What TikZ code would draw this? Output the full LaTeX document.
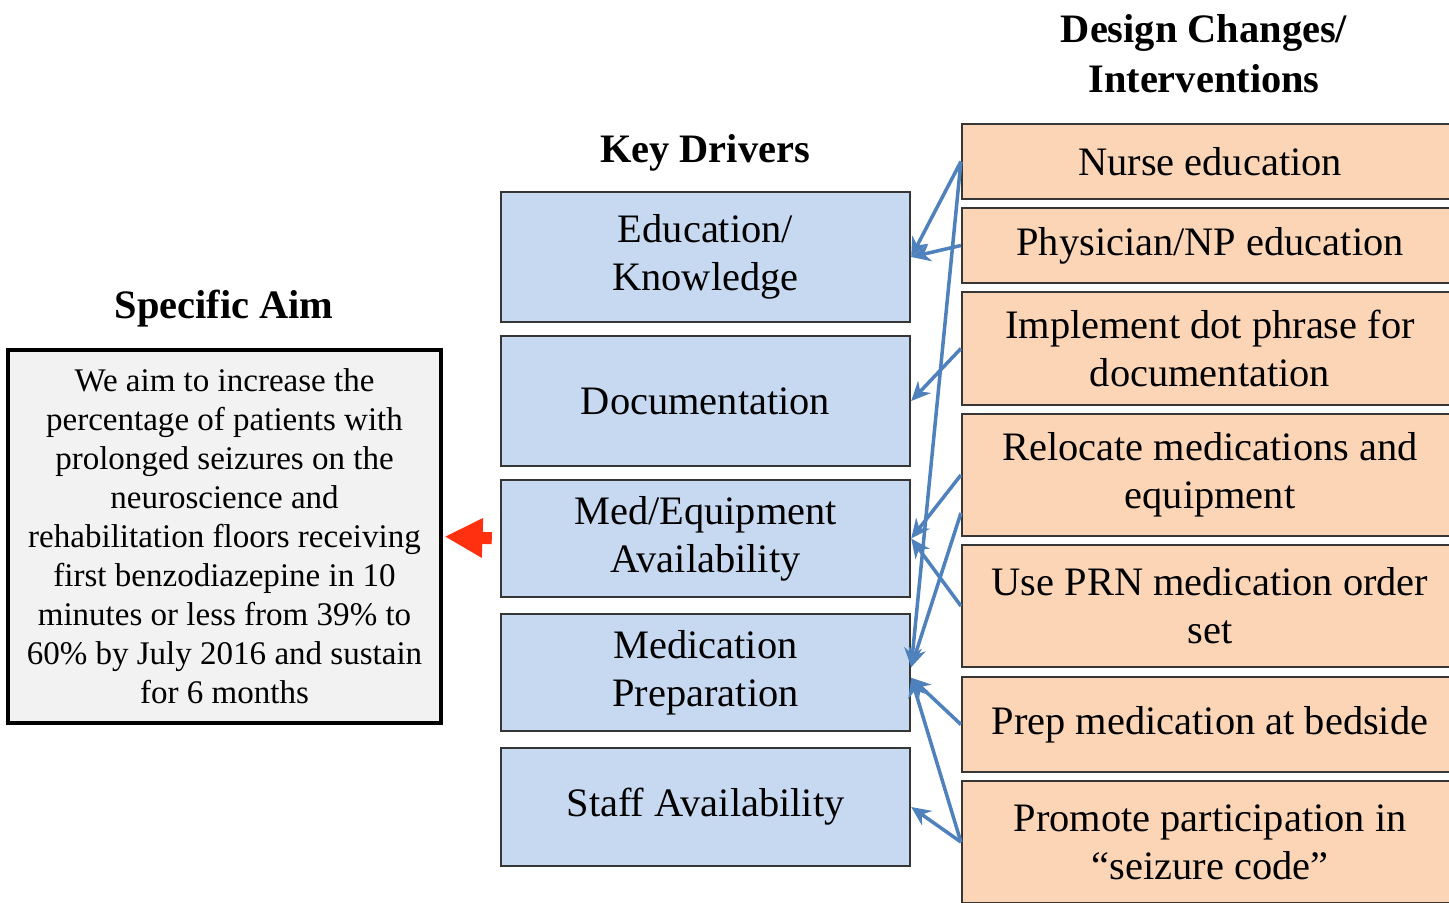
\documentclass[tikz,border=0pt]{standalone}
\usepackage{fontspec}
\setmainfont{Liberation Serif}
\usetikzlibrary{arrows.meta}

\definecolor{driverblue}{HTML}{C6D9F1}
\definecolor{changeorange}{HTML}{FBD5B5}
\definecolor{linkblue}{HTML}{4F81BD}
\definecolor{aimgray}{HTML}{F2F2F2}
\definecolor{boxline}{HTML}{363636}
\definecolor{aimred}{HTML}{FF3010}

\begin{document}
\begin{tikzpicture}[x = 0.02cm, y = -0.02cm, >={Stealth[length=11pt, width=10pt]},
	title/.style = {font = \fontsize{23}{28.5}\selectfont\bfseries, align = center},
	driver/.style = {draw = boxline, line width = 1.4pt, fill = driverblue, align = center,
		minimum width = 8.18cm, font = \fontsize{23}{27.5}\selectfont},
	change/.style = {draw = boxline, line width = 1.3pt, fill = changeorange, align = center,
		minimum width = 9.92cm, font = \fontsize{23}{27.5}\selectfont},
	link/.style = {->, draw = linkblue, line width = 2pt}]
\useasboundingbox (0,0) rectangle (1449,902);
\clip (0,0) rectangle (1449,902);

% titles
\node [title] (aimtitle) at (224,309) {Specific Aim};
\node [title] (drivertitle) at (705,153) {Key Drivers};
\node [title] (changetitle) at (1204,54) {Design Changes/\\Interventions};

% specific aim
\node [draw = black, line width = 1.8pt, fill = aimgray, align = center,
	minimum width = 8.66cm, minimum height = 7.46cm,
	font = \fontsize{18.8}{22.2}\selectfont] (aim) at (224.5,536.5)
	{We aim to increase the\\ percentage of patients with\\ prolonged seizures on the\\
	 neuroscience and\\ rehabilitation floors receiving\\ first benzodiazepine in 10\\
	 minutes or less from 39\% to\\ 60\% by July 2016 and sustain\\ for 6 months};

% key drivers
\node [driver, minimum height = 2.6cm] (education) at (705.5,257) {Education/\\Knowledge};
\node [driver, minimum height = 2.6cm] (documentation) at (705.5,401) {Documentation};
\node [driver, minimum height = 2.34cm] (medeq) at (705.5,538.5) {Med/Equipment\\Availability};
\node [driver, minimum height = 2.34cm] (medprep) at (705.5,672.5) {Medication\\Preparation};
\node [driver, minimum height = 2.36cm] (staff) at (705.5,807) {Staff Availability};

% design changes
\node [change, minimum height = 1.5cm] (nurse) at (1210,161.5) {Nurse education};
\node [change, minimum height = 1.5cm] (physician) at (1210,245.5) {Physician/NP education};
\node [change, minimum height = 2.26cm] (dotphrase) at (1210,348.5) {Implement dot phrase for\\documentation};
\node [change, minimum height = 2.44cm] (relocate) at (1210,475) {Relocate medications and\\equipment};
\node [change, minimum height = 2.44cm] (prn) at (1210,606) {Use PRN medication order\\set};
\node [change, minimum height = 1.9cm] (bedside) at (1210,724.5) {Prep medication at bedside};
\node [change, minimum height = 2.44cm] (seizurecode) at (1210,842) {Promote participation in\\``seizure code''};

% links from changes to drivers
\draw [link] (nurse.west) -- (education.east);
\draw [link] (nurse.west) -- ([yshift = 3pt]medprep.east);
\draw [link] (physician.west) -- (education.east);
\draw [link] (dotphrase.west) -- (documentation.east);
\draw [link] (relocate.west) -- (medeq.east);
\draw [link] ([yshift = -0.76cm]relocate.west) -- ([yshift = 3pt]medprep.east);
\draw [link] (prn.west) -- (medeq.east);
\draw [link] (bedside.west) -- ([yshift = -3pt]medprep.east);
\draw [link] (seizurecode.west) -- ([yshift = -3pt]medprep.east);
\draw [link] (seizurecode.west) -- (staff.east);

% drivers feed the aim
\draw [-{Triangle[length = 0.76cm, width = 0.74cm]}, aimred, line width = 0.24cm,
	shorten <= 0.16cm, shorten >= 0.04cm] (medeq.west) -- (aim.east);

\end{tikzpicture}
\end{document}
